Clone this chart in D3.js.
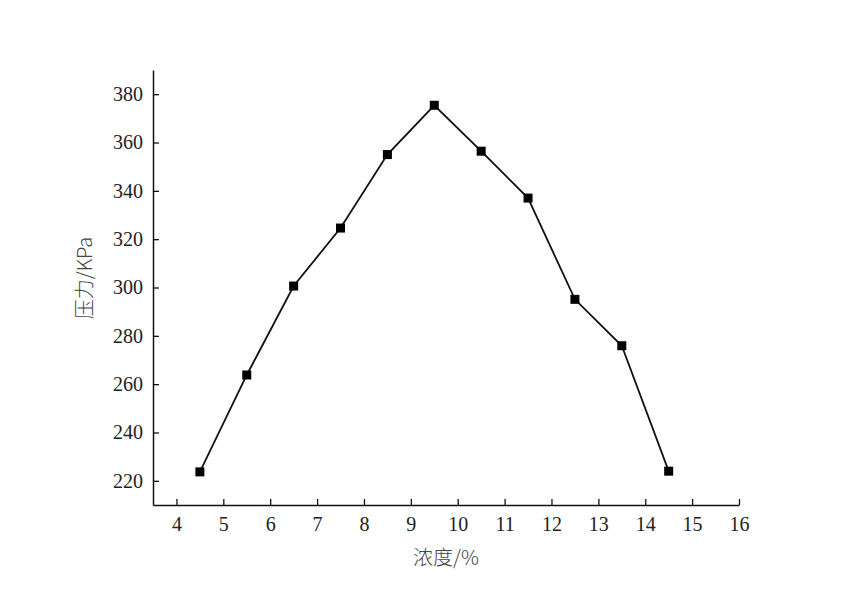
<!DOCTYPE html>
<html><head><meta charset="utf-8">
<script src="https://cdn.jsdelivr.net/npm/d3@7"></script>
<style>body{margin:0;background:#fff}</style>
</head><body>
<svg id="c" width="858" height="606"></svg>
<script>
const concentration = [4.5, 5.5, 6.5, 7.5, 8.5, 9.5, 10.5, 11.5, 12.5, 13.5, 14.5];
const pressure = [223.7, 263.8, 300.6, 324.6, 355.0, 375.4, 356.4, 337.0, 295.1, 275.9, 224.0];
const xTicks = [4, 5, 6, 7, 8, 9, 10, 11, 12, 13, 14, 15, 16];
const yTicks = [220, 240, 260, 280, 300, 320, 340, 360, 380];
const xLabel = "浓度/%";
const yLabel = "压力/KPa";

const svg = d3.select("#c");
const L = 153, R = 739, T = 70, B = 505;
const x = d3.scaleLinear().domain([3.5, 16]).range([L, R]);
const y = d3.scaleLinear().domain([210, 390]).range([B, T]);
const font = "Liberation Serif, Times New Roman, serif";

const xa = svg.append("g").attr("transform", `translate(0,${B})`)
  .call(d3.axisBottom(x).tickValues(xTicks).tickSizeInner(-6).tickSizeOuter(0).tickPadding(12).tickFormat(d3.format("d")));
const ya = svg.append("g").attr("transform", `translate(${L},0)`)
  .call(d3.axisLeft(y).tickValues(yTicks).tickSizeInner(-6).tickSizeOuter(0).tickPadding(10).tickFormat(d3.format("d")));
[xa, ya].forEach(g => {
  g.attr("font-family", font).attr("font-size", 20);
  g.select(".domain").attr("stroke", "#111").attr("stroke-width", 1.5);
  g.selectAll(".tick line").attr("stroke", "#111").attr("stroke-width", 1.3);
  g.selectAll("text").style("font-family", font).style("font-size", "20px").attr("fill", "#222");
});

const data = concentration.map((c, i) => ({c, p: pressure[i]}));
svg.append("path").datum(data)
  .attr("fill", "none").attr("stroke", "#111").attr("stroke-width", 1.8)
  .attr("d", d3.line().x(d => x(d.c)).y(d => y(d.p)));
svg.selectAll("rect.m").data(data).join("rect").attr("class", "m")
  .attr("x", d => x(d.c) - 4.5).attr("y", d => y(d.p) - 4.5)
  .attr("width", 9).attr("height", 9).attr("fill", "#000");

svg.append("text").attr("x", 446).attr("y", 565).attr("text-anchor", "middle")
  .style("font-family", "Noto Sans CJK SC, serif").style("font-size", "20px").style("font-weight", 300).attr("fill", "#444").text(xLabel);
svg.append("text").attr("transform", "translate(92,278) rotate(-90)").attr("text-anchor", "middle")
  .style("font-family", "Noto Sans CJK SC, serif").style("font-size", "20px").style("font-weight", 300).attr("fill", "#444").text(yLabel);
</script>
</body></html>
